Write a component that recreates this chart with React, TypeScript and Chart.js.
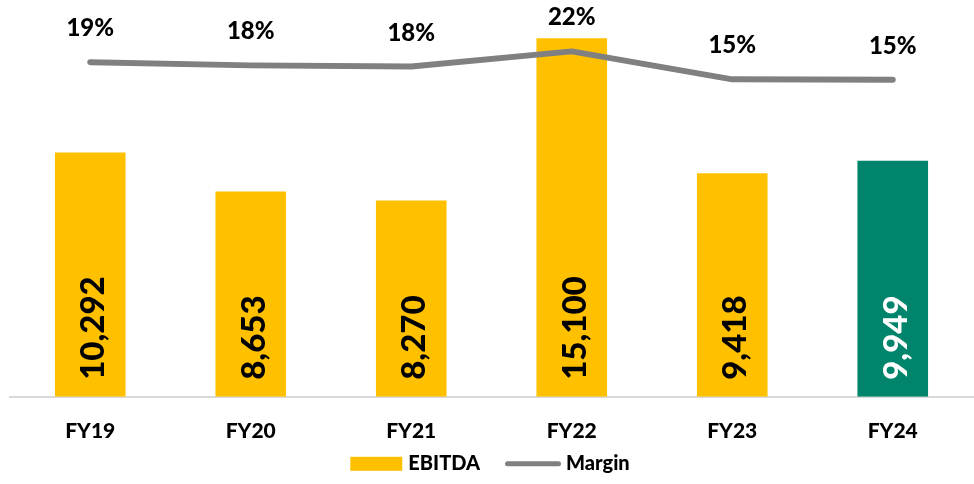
import React, { useEffect, useRef } from "react";
import { Chart, registerables } from "chart.js";

Chart.register(...registerables);

const categories = ["FY19", "FY20", "FY21", "FY22", "FY23", "FY24"];
const ebitda = [10292, 8653, 8270, 15100, 9418, 9949];
const margin = [18.9, 18.1, 17.8, 21.6, 14.6, 14.5];
const seriesNames = ["EBITDA", "Margin"];
const barColors = ["#FFC000", "#FFC000", "#FFC000", "#FFC000", "#FFC000", "#00846B"];
const barLabelColors = ["#000000", "#000000", "#000000", "#000000", "#000000", "#FFFFFF"];

const FONT = "Lato, 'Open Sans', sans-serif";
const WEIGHT = "900";
const LINE_COLOR = "#808080";
const BAR_COLOR = "#FFC000";

const labelsPlugin = {
  id: "valueLabels",
  afterDatasetsDraw(chart: any) {
    const ctx = chart.ctx;
    const barMeta = chart.getDatasetMeta(0);
    const lineMeta = chart.getDatasetMeta(1);
    ctx.save();
    ctx.font = `${WEIGHT} 33px ${FONT}`;
    barMeta.data.forEach((bar: any, i: number) => {
      const text = ebitda[i].toLocaleString("en-US");
      ctx.save();
      ctx.translate(bar.x, bar.base - 17);
      ctx.rotate(-Math.PI / 2);
      ctx.fillStyle = barLabelColors[i];
      ctx.textAlign = "left";
      ctx.textBaseline = "alphabetic";
      ctx.fillText(text, 0, 14);
      ctx.restore();
    });
    ctx.font = `${WEIGHT} 24px ${FONT}`;
    ctx.fillStyle = "#000000";
    ctx.textAlign = "center";
    ctx.textBaseline = "alphabetic";
    lineMeta.data.forEach((pt: any, i: number) => {
      ctx.fillText(Math.round(margin[i]) + "%", pt.x, pt.y - 26);
    });
    ctx.restore();
  },
};

const legendPlugin = {
  id: "customLegend",
  afterDraw(chart: any) {
    const ctx = chart.ctx;
    const yc = chart.chartArea.bottom + 67;
    ctx.save();
    ctx.font = `${WEIGHT} 20px ${FONT}`;
    const w1 = ctx.measureText(seriesNames[0]).width;
    const w2 = ctx.measureText(seriesNames[1]).width;
    const boxW = 52;
    const lineW = 56;
    const total = boxW + 6 + w1 + 25 + lineW + 5 + w2;
    let x = chart.width / 2 - total / 2 + 3;
    ctx.fillStyle = BAR_COLOR;
    ctx.fillRect(x, yc - 7, boxW, 14);
    x += boxW + 6;
    ctx.fillStyle = "#000000";
    ctx.textAlign = "left";
    ctx.textBaseline = "middle";
    ctx.fillText(seriesNames[0], x, yc);
    x += w1 + 25;
    ctx.strokeStyle = LINE_COLOR;
    ctx.lineWidth = 5;
    ctx.lineCap = "round";
    ctx.beginPath();
    ctx.moveTo(x + 2.5, yc);
    ctx.lineTo(x + lineW - 2.5, yc);
    ctx.stroke();
    x += lineW + 5;
    ctx.fillText(seriesNames[1], x, yc);
    ctx.restore();
  },
};

export default function App() {
  const ref = useRef<HTMLCanvasElement>(null);
  useEffect(() => {
    if (!ref.current) return;
    const chart = new Chart(ref.current, {
      type: "bar",
      data: {
        labels: categories,
        datasets: [
          {
            type: "bar",
            label: seriesNames[0],
            data: ebitda,
            backgroundColor: barColors,
            borderWidth: 0,
            yAxisID: "y",
            order: 1,
            categoryPercentage: 1,
            barPercentage: 0.44,
          },
          {
            type: "line",
            label: seriesNames[1],
            data: margin,
            borderColor: LINE_COLOR,
            borderWidth: 6,
            borderCapStyle: "round",
            borderJoinStyle: "round",
            pointRadius: 0,
            tension: 0,
            yAxisID: "y1",
            order: 0,
          } as any,
        ],
      },
      options: {
        responsive: false,
        animation: false,
        devicePixelRatio: 1,
        layout: { padding: { left: 10, right: 1, top: 17, bottom: 18 } },
        plugins: {
          legend: { display: false },
          tooltip: { enabled: false },
        },
        scales: {
          x: {
            grid: { display: false, drawTicks: false },
            border: { display: true, color: "#D9D9D9", width: 2 },
            ticks: {
              color: "#000000",
              font: { family: FONT, size: 21, weight: WEIGHT },
              padding: 22,
            },
          },
          y: { display: false, min: 0, max: 16000 },
          y1: { display: false, min: -64.8, max: 30.2 },
        },
      },
      plugins: [labelsPlugin, legendPlugin],
    });
    return () => chart.destroy();
  }, []);
  return (
    <div style={{ position: "absolute", left: 0, top: 0, width: 974, height: 484, background: "#fff" }}>
      <canvas ref={ref} width={974} height={484} />
    </div>
  );
}
